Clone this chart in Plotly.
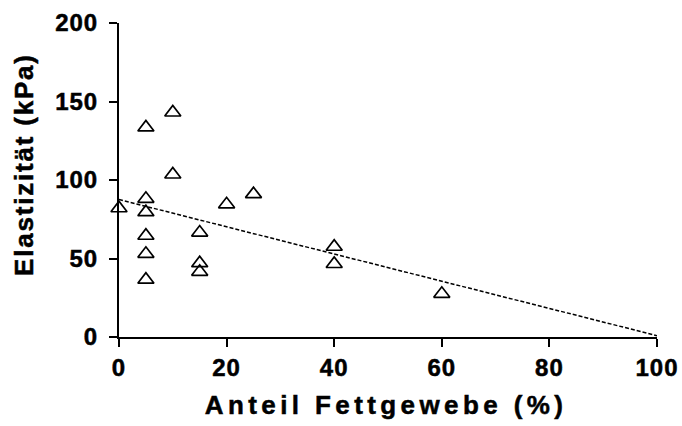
import numpy as np
import plotly.graph_objects as go

# ---- data ----
fat_pct = [0, 5, 5, 5, 5, 5, 5, 10, 10, 15, 15, 15, 20, 25, 40, 40, 60]
elasticity = [82, 133.5, 88, 79.5, 64.5, 53, 36.5, 143, 103.5, 66.5, 47, 41.5,
              84.5, 91, 57.5, 46.5, 27.5]
x_ticks = [0, 20, 40, 60, 80, 100]
y_ticks = [0, 50, 100, 150, 200]
x_title = "Anteil Fettgewebe (%)"
y_title = "Elastizität (kPa)"
fit_range = [0, 100]

# linear regression line
slope, intercept = np.polyfit(fat_pct, elasticity, 1)
fit_x = np.array(fit_range, dtype=float)
fit_y = intercept + slope * fit_x

FONT = "Liberation Sans, Arial, sans-serif"

fig = go.Figure()
fig.add_trace(go.Scatter(
    x=fit_x, y=fit_y, mode="lines",
    line=dict(color="black", width=1.5, dash="4px,2px"),
    hoverinfo="skip", showlegend=False, cliponaxis=False,
))
fig.add_trace(go.Scatter(
    x=fat_pct, y=elasticity, mode="markers",
    marker=dict(symbol="triangle-up-open", size=14, color="black",
                line=dict(width=1.7)),
    showlegend=False, cliponaxis=False,
))

axis_common = dict(
    showline=True, linecolor="black", linewidth=2,
    ticks="outside", ticklen=8, tickwidth=2, tickcolor="black",
    showgrid=False, zeroline=False, automargin=False,
    tickfont=dict(family=FONT, size=24, color="black", weight="bold"),
)

fig.update_layout(
    width=682, height=426,
    margin=dict(l=119, r=25, t=23, b=89, autoexpand=False),
    paper_bgcolor="white", plot_bgcolor="white",
    xaxis=dict(range=[0, 100], tickvals=x_ticks, ticklabelstandoff=0,
               **axis_common),
    yaxis=dict(range=[0, 200], tickvals=y_ticks, ticklabelstandoff=6,
               **axis_common),
    annotations=[
        dict(text=x_title, xref="paper", yref="paper", x=0.497, y=-0.2166,
             xanchor="center", yanchor="middle", showarrow=False,
             font=dict(family=FONT, size=26, color="black", weight="bold")),
        dict(text=y_title, xref="paper", yref="paper", x=-0.177, y=0.548,
             xanchor="center", yanchor="middle", showarrow=False, textangle=-90,
             font=dict(family=FONT, size=26, color="black", weight="bold")),
    ],
)

post = """
var gd = document.getElementById('{plot_id}');
function spacing(){
  var anns = gd.querySelectorAll('g.annotation text.annotation-text');
  if (anns.length > 0) anns[0].style.letterSpacing = '4.4px';
  if (anns.length > 1) anns[1].style.letterSpacing = '1.8px';
  anns.forEach(function(t){ t.style.stroke = 'black'; t.style.strokeWidth = '0.5px'; });
  gd.querySelectorAll('.xtick text, .ytick text').forEach(function(t){
    t.style.letterSpacing = '1px'; t.style.stroke = 'black'; t.style.strokeWidth = '0.5px';
  });
}
spacing();
setTimeout(spacing, 50);
"""

fig.write_html("out.html", post_script=post)
